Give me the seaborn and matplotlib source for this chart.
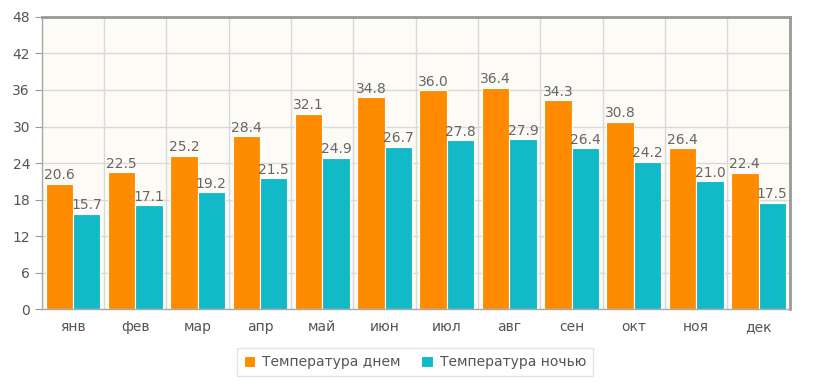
import pandas as pd
import seaborn as sns
from matplotlib import pyplot as plt

months = ["янв", "фев", "мар", "апр", "май", "июн", "июл", "авг", "сен", "окт", "ноя", "дек"]
day_temp = [20.6, 22.5, 25.2, 28.4, 32.1, 34.8, 36.0, 36.4, 34.3, 30.8, 26.4, 22.4]
night_temp = [15.7, 17.1, 19.2, 21.5, 24.9, 26.7, 27.8, 27.9, 26.4, 24.2, 21.0, 17.5]
series = ["Температура днем", "Температура ночью"]
colors = ["#ff8c00", "#12b9c6"]

df = pd.DataFrame({
    "month": months * 2,
    "temp": day_temp + night_temp,
    "series": [series[0]] * 12 + [series[1]] * 12,
})

sns.set_style("white")
plt.rcParams["font.family"] = ["DejaVu Sans"]

fig = plt.figure(figsize=(8.2, 3.85), dpi=100)
ax = fig.add_axes([0.051, 0.197, 0.912, 0.759])
ax.set_facecolor("#fdfbf6")

sns.barplot(data=df, x="month", y="temp", hue="series", palette=colors,
            width=0.88, saturation=1, ax=ax, edgecolor="white", linewidth=0.8)

for cont in ax.containers:
    ax.bar_label(cont, fmt="%.1f", padding=1, color="#666666", fontsize=10)

ax.set_ylim(0, 48)
ax.set_yticks(range(0, 49, 6))
ax.set_xlim(-0.5, 11.5)
ax.set_xticks([i - 0.5 for i in range(13)], minor=True)
ax.grid(True, which="minor", axis="x", color="#d9d9d9", linewidth=1)
ax.grid(True, which="major", axis="y", color="#d9d9d9", linewidth=1)
ax.set_axisbelow(True)
ax.tick_params(axis="x", which="major", length=0, pad=8, labelsize=10, labelcolor="#555555")
ax.tick_params(axis="x", which="minor", length=5, color="#999999")
ax.tick_params(axis="y", length=5, color="#999999", labelsize=10, labelcolor="#555555", left=True)
ax.set_xlabel("")
ax.set_ylabel("")

for side in ["top", "right"]:
    ax.spines[side].set_visible(True)
    ax.spines[side].set_color("#999999")
    ax.spines[side].set_linewidth(2)
for side in ["left", "bottom"]:
    ax.spines[side].set_color("#aaaaaa")
    ax.spines[side].set_linewidth(1)

leg = ax.legend(loc="upper center", bbox_to_anchor=(0.499, -0.11), ncol=2, frameon=True,
                fontsize=10, handlelength=0.8, handleheight=0.8, handletextpad=0.5,
                columnspacing=1.5, fancybox=False, borderpad=0.5)
leg.get_frame().set_edgecolor("#dddddd")
for t in leg.get_texts():
    t.set_color("#555555")

fig.savefig("out.png", dpi=100)
